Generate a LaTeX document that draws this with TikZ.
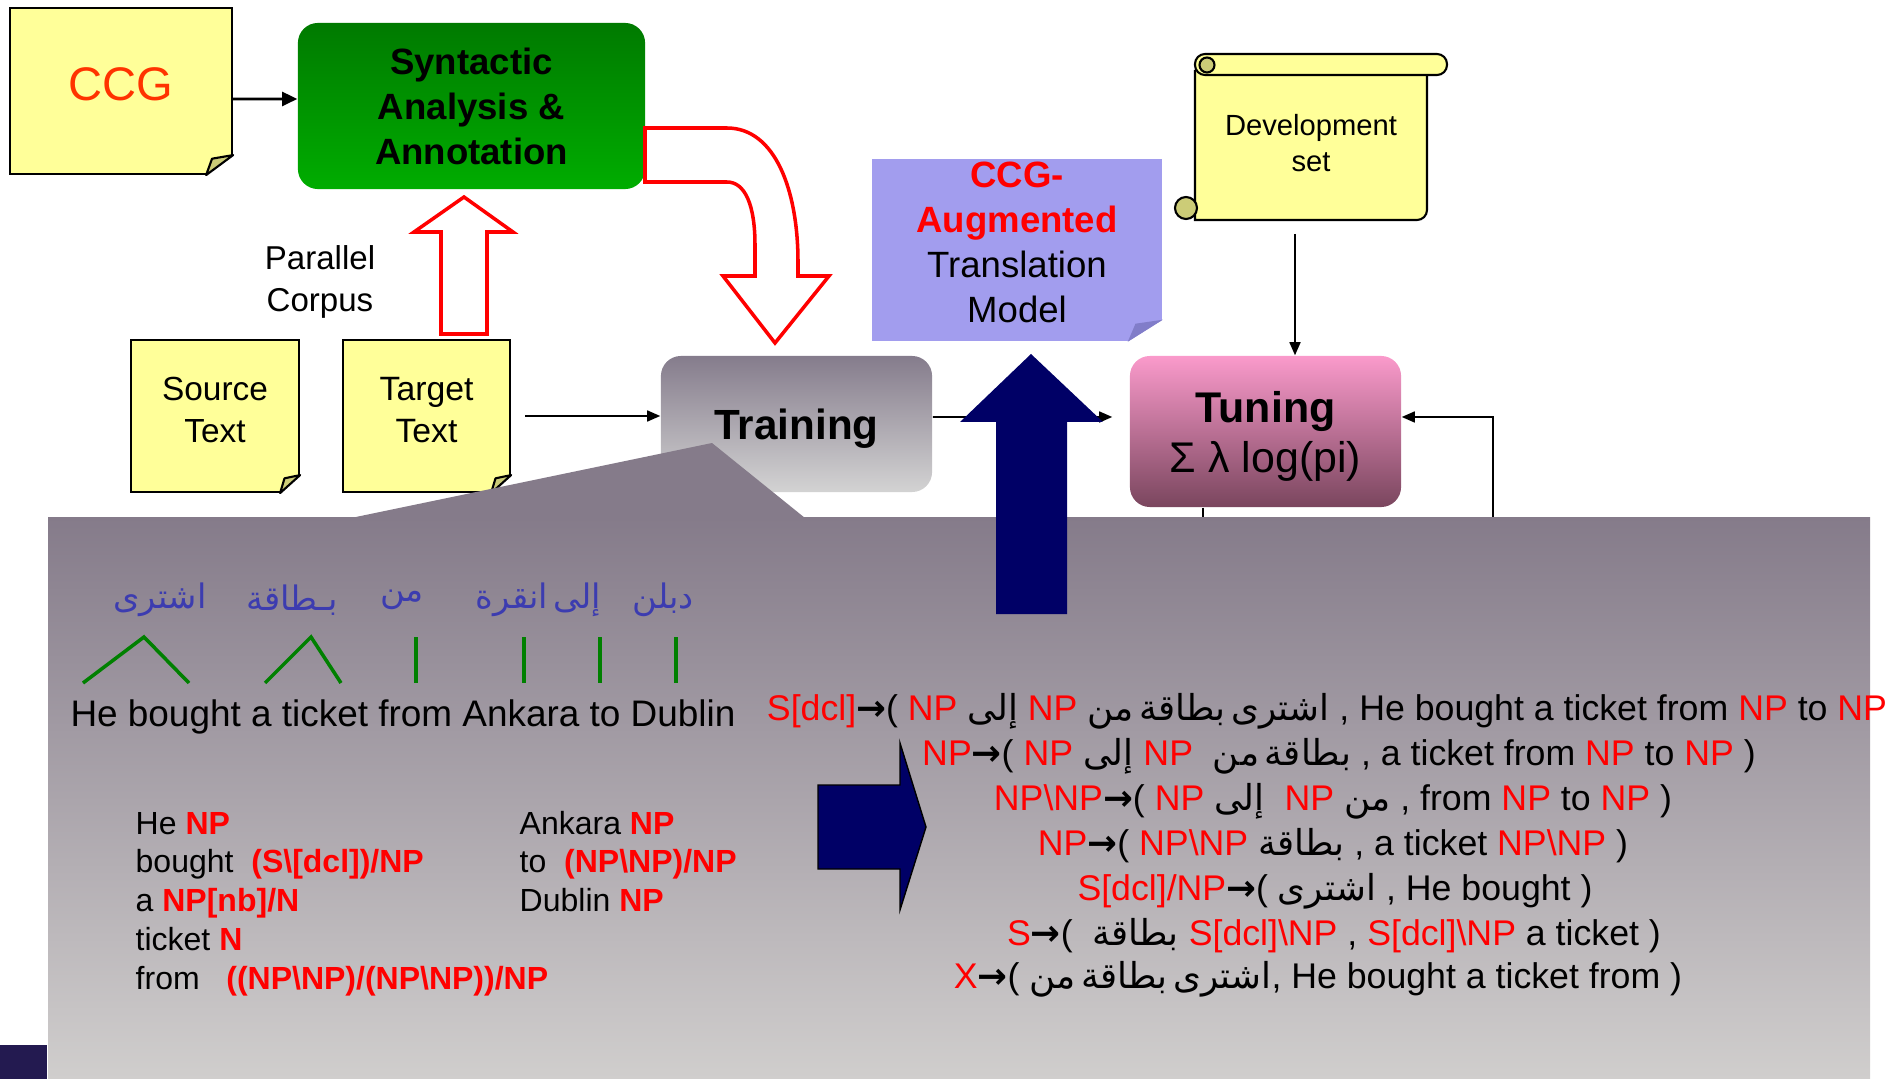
\documentclass[tikz,border=0pt]{standalone}
\usepackage{fontspec}
\setmainfont{Liberation Sans}
\newfontfamily\arabicfont[Script=Arabic, WordSpace=0.5]{DejaVu Sans}
\newfontfamily\symbfont{DejaVu Sans}
\TeXXeTstate=1
\usetikzlibrary{arrows.meta,positioning}

\definecolor{noteyellow}{HTML}{FFFF99}
\definecolor{notefold}{HTML}{CCCC77}
\definecolor{ccgorange}{HTML}{FF3300}
\definecolor{syntop}{HTML}{007A00}
\definecolor{synbot}{HTML}{00AD00}
\definecolor{trntop}{HTML}{857C8C}
\definecolor{trnbot}{HTML}{D3D3D3}
\definecolor{tuntop}{HTML}{FA9ACB}
\definecolor{tunbot}{HTML}{7A465E}
\definecolor{augfill}{HTML}{A29DEE}
\definecolor{augfold}{HTML}{817DC9}
\definecolor{navy}{HTML}{000066}
\definecolor{catred}{HTML}{FF0000}
\definecolor{arabblue}{HTML}{3C3CB0}
\definecolor{linkgreen}{HTML}{008000}
\definecolor{paneltop}{HTML}{857B8A}
\definecolor{panelbot}{HTML}{D0CECD}
\definecolor{cornernavy}{HTML}{231A50}

\newcommand{\setfs}[2]{\fontsize{#1}{#2}\selectfont}
\newcommand{\ctg}[1]{\textcolor{catred}{#1}}
\newcommand{\arb}[1]{{\arabicfont\beginR #1\endR}}
\newcommand{\rarr}{{\symbfont\bfseries →}}
% folded bottom-right corner of a note: node, dx, dy, fold colour, border
\newcommand{\foldcorner}[5]{%
  \fill[white] ([yshift=#3cm]#1.south east) -- ([xshift=0.05cm,yshift=#3cm]#1.south east)
    -- ([xshift=0.05cm,yshift=-0.05cm]#1.south east) -- ([xshift=-#2cm,yshift=-0.05cm]#1.south east)
    -- ([xshift=-#2cm]#1.south east) -- cycle;
  \filldraw[fill=#4, draw=#5, line width=0.6pt, line join=round] ([yshift=#3cm]#1.south east)
    -- ([xshift=-#2cm]#1.south east) -- ([xshift=-0.78*#2cm, yshift=0.82*#3cm]#1.south east) -- cycle;
}

\tikzset{
  note/.style={draw=black, line width=0.6pt, fill=noteyellow, inner sep=0pt},
  boxtext/.style={align=center, inner sep=0pt},
  procbox/.style={rounded corners=0.2cm, inner sep=0pt, align=center},
  flow/.style={-{Triangle[length=0.13cm,width=0.11cm]}, line width=0.45pt},
  flowthick/.style={-{Triangle[length=0.15cm,width=0.14cm]}, line width=0.75pt},
  hollow/.style={draw=red, line width=1pt, fill=white, line join=miter},
  link/.style={draw=linkgreen, line width=1pt},
  rule/.style={anchor=base, font=\setfs{10.15pt}{12.2pt}},
  catline/.style={anchor=base west, inner sep=0pt, font=\setfs{9.1pt}{11pt}},
  arword/.style={text=arabblue, font=\setfs{9.6pt}{11pt}},
}

\begin{document}
\begin{tikzpicture}[x=0.01cm, y=-0.01cm]
\useasboundingbox (0,0) rectangle (1899,1079);

% notes
\node[note, minimum width=2.22cm, minimum height=1.66cm,
  label={[boxtext, text=ccgorange, font=\setfs{13.4pt}{16pt}, yshift=0.065cm]center:CCG}] (ccg) at (121,91) {};
\foldcorner{ccg}{0.27}{0.2}{notefold}{black}
\node[note, minimum width=1.68cm, minimum height=1.52cm,
  label={[boxtext, font=\setfs{9.5pt}{11.7pt}, yshift=0.06cm]center:{Source\\Text}}] (src) at (215,416) {};
\foldcorner{src}{0.2}{0.18}{notefold}{black}
\node[note, minimum width=1.67cm, minimum height=1.52cm,
  label={[boxtext, font=\setfs{9.6pt}{11.7pt}, yshift=0.06cm]center:{Target\\Text}}] (tgt) at (426.5,416) {};
\foldcorner{tgt}{0.2}{0.18}{notefold}{black}
\node[fill=augfill, inner sep=0pt, minimum width=2.9cm, minimum height=1.82cm,
  label={[boxtext, font=\setfs{10.4pt}{12.8pt}, yshift=0.075cm]center:{{\bfseries\color{catred}CCG-}\\{\bfseries\color{catred}Augmented}\\Translation\\Model}}] (aug) at (1017,250) {};
\foldcorner{aug}{0.35}{0.22}{augfold}{none}

% scroll
\filldraw[fill=noteyellow, line width=0.6pt] (1195,70) -- (1195,220) [rounded corners=0.1cm] -- (1427,220) -- (1427,70);
\filldraw[fill=noteyellow, line width=0.6pt, rounded corners=0.1cm] (1195,54) rectangle (1447,75);
\filldraw[fill=notefold, line width=0.6pt] (1207,65) circle (0.075cm);
\filldraw[fill=notefold, line width=0.6pt] (1186,208) circle (0.11cm);
\node[minimum width=2.32cm, minimum height=1.45cm,
  label={[boxtext, font=\setfs{8.3pt}{10.3pt}, yshift=0.04cm]center:{Development\\set}}] (dev) at (1311,147) {};

% process boxes
\node[procbox, top color=syntop, bottom color=synbot, minimum width=3.47cm, minimum height=1.66cm, font=\setfs{10.4pt}{12.8pt}\bfseries] (syn) at (471.5,106) {Syntactic\\Analysis \&\\Annotation};
\node[procbox, top color=trntop, bottom color=trnbot, minimum width=2.71cm, minimum height=1.36cm,
  label={[boxtext, font=\setfs{12pt}{14pt}\bfseries, yshift=-0.05cm]center:Training}] (trn) at (796.5,424) {};
\node[procbox, top color=tuntop, bottom color=tunbot, minimum width=2.71cm, minimum height=1.51cm,
  label={[boxtext, font=\setfs{12.2pt}{14.2pt}, yshift=-0.045cm]center:{\textbf{Tuning}\\Σ λ log(pi)}}] (tun) at (1265.5,431.5) {};

\node[align=center, font=\setfs{9.4pt}{11.9pt}] (par) at (320,282) {Parallel\\Corpus};

% connectors
\draw[flowthick] ([yshift=-0.08cm]ccg.east) -- ([yshift=0.07cm]syn.west);
\draw[flow] ([xshift=0.14cm]tgt.east) -- (tgt.east -| trn.west);
\draw[flow, shorten >=0.17cm] ([yshift=0.07cm]trn.east) -- ([yshift=0.145cm]tun.west);
\coordinate (devout) at (1295,234);
\draw[flow] (devout) -- (devout |- tun.north);
\coordinate (fbfoot) at (1493,517);
\draw[flow] (fbfoot) |- ([yshift=0.145cm]tun.east);
\draw[line width=0.45pt] ([xshift=-0.625cm]tun.south) -- ++(0,12);

% hollow red arrows
\filldraw[hollow] (441,334) -- (441,232) -- (414,232) -- (464,197) -- (513,232) -- (487,232) -- (487,334) -- cycle;
\filldraw[hollow] (645,128) -- (727,128) .. controls (775,128) and (798,190) .. (798,262) -- (798,276) -- (829,276)
  -- (775,343) -- (723,276) -- (755,276) -- (755,245) .. controls (755,205) and (745,182) .. (727,182) -- (645,182) -- cycle;

% panel with pointer
\shade[top color=paneltop, bottom color=panelbot] (48,517) rectangle (1870,1079);
\fill[paneltop] (351,518) -- (712,443) -- (805,518) -- cycle;
\fill[cornernavy] (0,1045) rectangle (47,1079);

% navy arrows
\fill[navy] (1031,354) -- (1103,422) -- (1067,422) -- (1067,614) -- (996,614) -- (996,422) -- (960,422) -- cycle;
\filldraw[fill=navy, draw=black, line width=0.4pt] (818,785) -- (900,785) -- (900,743) -- (926,827) -- (900,910) -- (900,869) -- (818,869) -- cycle;

% word alignment
\foreach \w/\x [count=\i] in {اشترى/160, بـطاقة/292, من/402, انقرة/512, إلى/577, دبلن/663}
  \node[arword] (ar\i) at (\x,600) {\arb{\w}};
\foreach \a/\b/\c in {83/144/189, 265/311/341}
  \draw[link] (\a,683) -- (\b,637) -- (\c,683);
\foreach \x in {416,524,600,676}
  \draw[link] (\x,637) -- (\x,683);
\node[font=\setfs{10.5pt}{12pt}] (eng) at (403,717) {He bought a ticket from Ankara to Dublin};

% lexical categories
\foreach \t [count=\i] in {{He \textbf{\ctg{NP}}},
    {bought\ \ \textbf{\ctg{(S\textbackslash[dcl])/NP}}},
    {a \textbf{\ctg{NP[nb]/N}}},
    {ticket \textbf{\ctg{N}}},
    {from\ \ \ \textbf{\ctg{((NP\textbackslash NP)/(NP\textbackslash NP))/NP}}}}
  \node[catline] (lx\i) at (135,{834+38.8*(\i-1)}) {\t};
\foreach \t [count=\i] in {{Ankara \textbf{\ctg{NP}}},
    {to\ \ \textbf{\ctg{(NP\textbackslash NP)/NP}}},
    {Dublin \textbf{\ctg{NP}}}}
  \node[catline] (rx\i) at (519,{834+38.8*(\i-1)}) {\t};

% extracted rules
\node[rule] (rl1) at (1327,720) {\ctg{S[dcl]}\rarr( \ctg{NP} \arb{إلى} \ctg{NP} \arb{اشترى بطاقة من} , He bought a ticket from \ctg{NP} to \ctg{NP}};
\node[rule] (rl2) at (1339,765) {\ctg{NP}\rarr( \ctg{NP} \arb{إلى} \ctg{NP}\ \ \arb{بطاقة من} , a ticket from \ctg{NP} to \ctg{NP} )};
\node[rule] (rl3) at (1333,810) {\ctg{NP\textbackslash NP}\rarr( \ctg{NP} \arb{إلى}\ \ \ctg{NP} \arb{من} , from \ctg{NP} to \ctg{NP} )};
\node[rule] (rl4) at (1333,855) {\ctg{NP}\rarr( \ctg{NP\textbackslash NP} \arb{بطاقة} , a ticket \ctg{NP\textbackslash NP} )};
\node[rule] (rl5) at (1335,900) {\ctg{S[dcl]/NP}\rarr( \arb{اشترى} , He bought )};
\node[rule] (rl6) at (1334,945) {\ctg{S}\rarr(\ \ \arb{بطاقة} \ctg{S[dcl]\textbackslash NP} , \ctg{S[dcl]\textbackslash NP} a ticket )};
\node[rule] (rl7) at (1318,988) {\ctg{X}\rarr( \arb{اشترى بطاقة من}, He bought a ticket from )};

\end{tikzpicture}
\end{document}
